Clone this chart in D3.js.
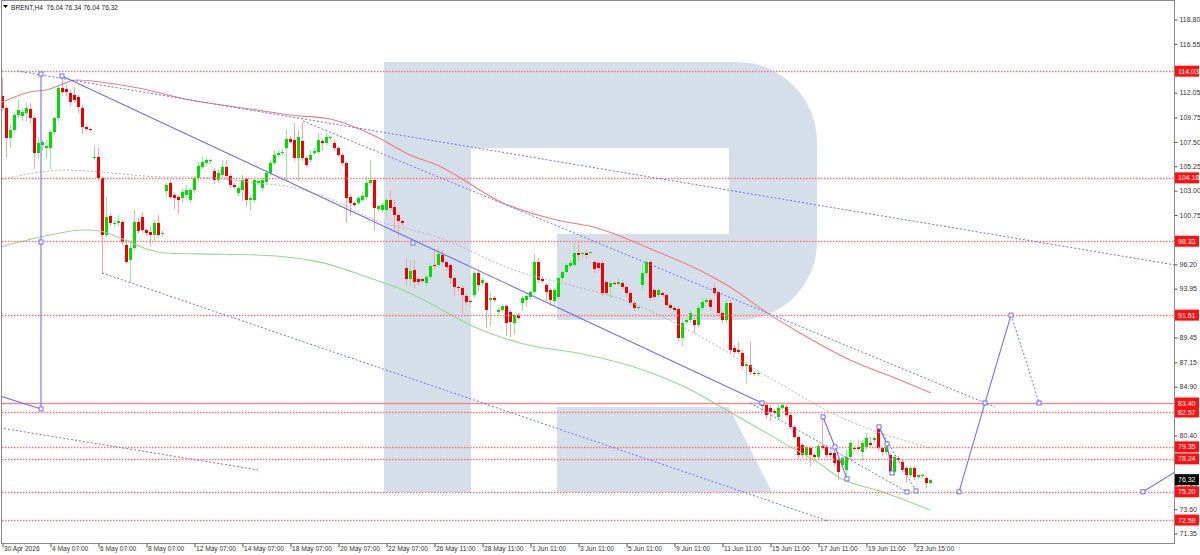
<!DOCTYPE html>
<html>
<head>
<meta charset="utf-8">
<script src="https://cdn.jsdelivr.net/npm/d3@7"></script>
<style>
  html, body { margin: 0; padding: 0; background: #fff; }
  svg { display: block; font-family: "Liberation Sans", Arial, sans-serif; }
</style>
</head>
<body>
<div id="chart"></div>
<script>
// BRENT H4 candles (bar 0 = 30 Apr 2026)
const opens = [
  111.74,110.63,107.86,108.60,109.99,109.89,110.17,110.54,109.71,106.48,
  107.22,106.94,106.94,108.42,109.71,112.48,112.39,112.02,111.83,111.65,
  110.63,108.88,108.69,106.02,106.11,104.17,98.91,100.66,99.92,100.02,
  100.11,97.99,96.60,97.71,100.11,100.57,99.37,99.19,98.91,100.02,
  99.00,102.97,103.71,102.60,102.42,102.32,102.60,102.14,103.06,104.17,
  105.19,105.55,105.74,104.82,103.99,104.45,105.19,104.35,103.52,102.79,
  103.06,104.08,102.14,102.14,103.71,103.25,103.80,104.63,105.55,106.29,
  106.48,106.94,107.77,107.68,106.02,107.59,106.02,105.83,106.48,106.57,
  107.59,107.40,107.86,107.40,106.94,106.29,105.55,102.42,101.86,101.86,
  102.14,102.42,103.71,103.99,101.31,101.22,101.22,102.14,101.49,100.76,
  100.20,95.86,94.85,95.68,94.85,94.85,94.48,95.03,96.14,96.14,
  97.06,96.42,96.14,94.94,94.11,94.02,93.28,92.82,93.37,95.40,
  94.48,94.48,92.91,93.09,91.80,91.99,92.36,91.80,90.79,91.53,
  92.63,92.91,93.19,93.65,96.42,94.85,94.29,93.83,92.82,93.19,
  94.94,95.49,96.05,96.14,97.25,97.16,97.25,97.25,96.42,96.33,
  96.33,94.57,94.11,94.48,94.39,94.48,94.11,93.56,92.63,92.17,
  94.29,95.40,96.42,93.83,93.37,93.56,93.37,92.45,92.17,92.08,
  89.40,90.88,91.06,91.06,90.60,92.17,92.73,92.91,94.02,93.65,
  91.71,91.06,92.63,88.48,88.30,88.02,86.82,86.91,86.17,86.08,
  83.40,83.22,82.94,82.66,82.11,82.94,83.03,82.30,81.19,80.26,
  79.53,78.60,79.25,78.60,78.42,79.43,79.34,78.79,78.79,78.14,
  77.68,77.22,78.42,79.25,79.34,78.88,79.34,79.71,79.99,81.10,
  79.25,78.88,78.60,77.03,78.33,77.96,77.40,76.76,77.40,76.57,
  76.67,76.48,76.04
];
const highs = [
  113.40,110.91,109.06,110.17,111.37,110.63,111.19,111.09,109.89,107.95,
  107.68,107.68,108.60,109.80,112.75,113.49,112.75,112.29,112.57,111.83,
  110.91,109.06,108.79,107.22,106.94,104.35,102.42,100.94,100.29,100.76,
  100.29,98.45,98.17,101.22,100.48,101.03,99.55,99.65,100.29,100.76,
  99.28,103.71,103.99,102.79,102.60,103.25,103.52,103.25,104.35,105.65,
  106.11,106.02,105.92,105.09,104.91,105.83,105.83,104.54,103.71,103.43,
  104.45,104.26,102.51,104.17,104.08,104.17,104.91,105.83,106.76,106.76,
  106.85,108.60,108.05,109.25,108.60,109.34,106.20,106.76,106.94,108.32,
  107.77,108.32,108.05,107.68,107.12,106.48,105.74,102.69,101.96,102.51,
  102.88,104.26,105.83,104.17,101.68,101.86,102.32,103.06,102.14,101.03,
  100.39,96.79,96.60,96.60,95.03,94.94,95.22,96.33,97.71,97.71,
  97.53,96.60,96.33,95.12,94.29,94.20,93.46,92.91,95.49,95.68,
  94.94,94.66,93.56,93.28,92.17,92.54,92.54,91.99,91.71,91.71,
  93.28,93.56,93.83,97.16,96.79,95.03,94.48,94.02,94.02,95.03,
  95.68,96.33,96.60,98.17,98.26,97.43,97.53,97.43,96.60,96.51,
  96.60,94.76,94.66,94.66,94.94,94.76,94.29,93.83,92.82,92.45,
  96.33,96.79,96.60,94.02,94.02,93.74,93.56,92.63,92.36,92.26,
  91.25,91.25,91.99,91.53,92.45,93.09,93.09,93.09,94.48,93.83,
  91.90,92.91,92.91,88.76,89.04,88.30,87.19,89.04,86.36,86.26,
  83.68,83.50,83.22,82.85,83.22,83.40,83.22,82.48,81.37,80.45,
  79.71,79.53,79.43,78.79,79.62,82.20,79.53,78.97,78.97,78.33,
  78.60,79.07,79.99,79.43,79.99,79.99,80.63,80.26,80.36,81.28,
  79.43,79.53,78.79,78.60,78.51,78.14,77.59,77.59,77.59,76.85,
  76.85,76.67,76.34
];
const lows = [
  110.45,106.11,107.03,108.42,109.80,109.52,109.52,109.34,105.09,106.02,
  106.76,106.02,105.09,108.23,109.52,111.83,111.83,110.91,111.19,110.26,
  108.32,108.60,108.51,105.92,103.99,95.40,98.72,99.83,99.74,99.83,
  98.08,96.33,94.57,97.53,99.09,99.19,98.91,97.99,98.45,98.72,
  98.82,102.51,102.32,101.40,100.94,101.96,102.32,101.96,102.88,103.99,
  105.09,105.37,105.55,103.71,103.80,104.26,104.17,103.34,103.25,102.60,
  102.14,101.68,101.22,101.96,103.62,103.06,103.62,104.45,105.46,106.11,
  106.39,103.99,107.40,105.83,103.99,105.83,105.28,105.65,106.39,106.48,
  106.76,107.31,107.77,106.76,106.20,105.37,100.11,100.76,101.59,101.77,
  102.05,102.23,103.52,99.37,101.12,101.03,100.66,101.22,99.37,98.72,
  99.83,94.29,94.29,94.11,94.39,94.57,94.29,94.85,95.86,95.96,
  96.23,95.68,94.48,93.37,93.83,91.71,92.54,92.63,93.19,93.83,
  94.29,90.42,90.60,92.82,91.62,91.80,89.68,89.59,89.86,91.16,
  91.99,92.36,93.00,93.46,94.57,94.57,92.91,92.45,92.45,93.00,
  94.76,95.40,95.96,96.05,96.60,96.88,96.79,97.16,95.49,95.68,
  93.37,93.46,93.19,94.29,94.29,94.02,93.28,92.45,91.99,92.08,
  93.83,95.22,92.91,93.09,93.19,93.28,92.26,92.08,91.90,89.22,
  88.76,90.79,90.88,89.96,90.42,91.99,92.63,91.99,93.37,91.53,
  90.88,90.88,88.11,88.02,88.02,86.63,85.25,86.08,85.99,85.99,
  82.76,82.02,81.84,82.39,81.93,82.85,82.20,81.10,80.17,78.33,
  78.42,78.33,77.68,78.33,78.24,79.16,78.42,78.51,77.68,76.39,
  77.50,76.76,78.24,79.07,79.07,78.14,79.16,79.43,79.80,79.07,
  78.60,78.70,76.94,76.85,78.05,77.03,76.11,76.57,76.39,76.48,
  76.57,75.65,76.04
];
const closes = [
  110.63,107.86,108.60,109.99,110.45,110.26,110.63,109.71,106.48,107.40,
  107.49,107.12,108.42,109.71,112.48,112.11,112.11,111.19,111.37,110.72,
  108.88,108.69,108.60,106.11,104.17,98.91,100.57,100.02,100.02,100.20,
  98.26,96.42,97.71,100.11,99.28,99.37,99.09,98.91,100.02,98.91,
  99.09,103.52,102.42,102.32,102.14,102.88,103.06,103.06,104.17,105.28,
  105.65,105.83,105.83,103.99,104.63,105.19,104.35,103.52,103.34,103.25,
  103.99,102.14,102.32,103.99,103.89,103.99,104.63,105.55,106.29,106.48,
  106.57,107.77,107.49,106.02,107.95,106.02,105.37,106.29,106.66,107.68,
  107.40,107.95,107.95,106.94,106.29,105.55,102.32,101.86,101.68,102.32,
  102.51,103.71,103.99,101.40,101.59,101.68,102.14,101.40,100.76,100.20,
  100.02,94.85,95.59,94.57,94.57,94.66,95.03,96.05,96.05,97.16,
  96.42,95.96,94.94,94.11,94.02,93.37,92.73,92.73,95.40,94.29,
  94.76,91.99,93.09,92.91,91.99,92.36,90.79,90.88,91.53,91.25,
  93.09,93.28,93.65,96.42,94.76,94.66,93.65,92.91,93.83,94.94,
  95.49,96.14,96.33,97.25,97.06,97.25,97.06,97.34,95.77,95.86,
  93.56,93.56,94.48,94.39,94.57,94.11,93.56,92.63,92.17,92.26,
  95.40,96.42,93.09,93.19,93.83,93.37,92.45,92.17,91.99,89.40,
  90.79,91.06,91.71,90.60,92.17,92.73,92.91,92.26,93.56,91.71,
  91.06,92.63,88.30,88.11,88.11,86.82,87.00,86.26,86.08,86.17,
  83.12,82.30,82.57,82.48,82.94,83.22,82.30,81.19,80.26,78.60,
  78.60,79.34,78.60,78.42,79.43,79.25,78.60,78.60,77.87,77.03,
  78.33,78.42,79.71,79.16,79.16,79.71,80.17,79.53,80.17,79.25,
  78.88,79.34,77.03,78.42,78.14,77.22,76.76,77.40,76.57,76.76,
  76.76,76.02,76.32
];

// moving averages, sampled as [bar, price]
const maRed = [[-0.5,111.09],[7,112.11],[12,112.39],[14.5,112.75],[18.75,113.22],[24.5,113.03],
  [32.75,112.57],[47,111.37],[63.75,110.45],[72,109.99],[82,109.62],[88.75,108.79],[93.75,107.95],
  [102,106.29],[108.75,105.37],[125.25,101.86],[138.75,100.29],[148.75,99.56],[162.75,97.53],
  [175.25,95.49],[182,94.11],[192,91.53],[199.5,89.86],[212,87.37],[224.5,85.53],[232.25,84.33]];
const maGreen = [[-0.5,97.80],[12,98.91],[20.25,99.37],[24.5,99.28],[29.5,98.63],[37,97.53],
  [40.75,97.25],[49.5,97.16],[63.75,97.06],[80.25,96.33],[92,94.94],[100.25,93.83],[107.75,92.45],
  [117,90.60],[129.5,88.94],[146.25,87.83],[158.75,86.63],[171.25,84.79],[182,82.57],[196.25,79.53],
  [203.75,77.96],[209.5,76.48],[220.25,75.19],[232,73.53]];
const maGray = [[-0.5,103.99],[9.5,104.72],[16.25,104.91],[24.5,104.72],[41.25,104.26],[47.75,104.26],
  [63.75,103.71],[72,103.34],[84.5,101.86],[92,100.48],[108.75,98.73],[129.5,95.49],[142,94.29],
  [158.75,92.45],[175.25,89.40],[192,85.71],[209.5,82.11],[232,79.25]];

// horizontal levels and analysis lines, [bar, price]
const levels = [114.03, 104.18, 98.33, 91.51, 83.40, 82.57, 79.35, 78.24, 75.20, 72.59];
const solidLevel = 83.40;
const solidLines = [
  [[15,113.59],[190,83.40]],
  [[9.75,113.77],[9.75,82.85]],
  [[-0.5,84.05],[9.75,82.85]],
  [[205.25,82.11],[208.25,79.34],[211.25,76.39]],
  [[219.25,81.19],[221.25,79.62],[222.5,76.94]],
  [[239.25,75.20],[245.75,83.40],[252.25,91.51]],
  [[285.25,75.20],[293.25,77.03]]
];
const dottedLines = [
  [[3.75,114.05],[293.25,96.14]],
  [[75.25,109.43],[248.25,83.03]],
  [[25,95.40],[206.5,72.51]],
  [[-0.5,81.10],[64,77.22]],
  [[187,83.40],[226.25,75.19]],
  [[219.25,81.19],[228.5,75.28]],
  [[252.25,91.51],[255.75,87.56],[259.25,83.40]]
];
const anchors = [[9.75,113.77],[9.75,98.26],[9.75,82.85],[15,113.59],[102.75,98.17],[190,83.40],
  [205.25,82.11],[208.25,79.34],[211.25,76.39],[219.25,81.19],[221.25,79.62],[222.5,76.94],
  [226.25,75.19],[228.5,75.28],[239.25,75.20],[245.75,83.40],[252.25,91.51],[259.25,83.40],[285.25,75.20]];

const yTicks = [118.80,116.55,114.30,112.05,109.75,107.50,105.25,103.00,100.75,98.45,96.20,
  93.95,91.70,89.45,87.15,84.90,82.65,80.40,78.15,75.85,73.60,71.35];
const dateBars = [0,12,24,36,48,60,72,84,96,108,120,132,144,156,168,180,192,204,216,228];
const dateLabels = ["30 Apr 2026","4 May 07:00","6 May 07:00","8 May 07:00","12 May 07:00",
  "14 May 07:00","18 May 07:00","20 May 07:00","22 May 07:00","26 May 11:00","28 May 11:00",
  "1 Jun 11:00","3 Jun 11:00","5 Jun 11:00","9 Jun 11:00","11 Jun 11:00","15 Jun 11:00",
  "17 Jun 11:00","19 Jun 11:00","23 Jun 15:00"];
const header = "BRENT,H4  76.04 76.34 76.04 76.32";

const W = 1200, H = 555;
const plotRight = 1174, plotBottom = 543;
const blue = "#6f6ff2";

const svg = d3.select("#chart").append("svg")
    .attr("width", W)
    .attr("height", H);
svg.append("rect").attr("width", W).attr("height", H).attr("fill", "#fff");

const x = d3.scaleLinear().domain([0, 293.25]).range([2, 1175]);
const y = d3.scaleLinear().domain([71.35, 118.80]).range([533.5, 19.5]);

svg.append("defs").append("clipPath").attr("id", "plot")
  .append("rect").attr("x", 2).attr("y", 1).attr("width", plotRight - 2).attr("height", plotBottom - 1);

// watermark logo
const logo = svg.append("g").attr("fill", "#d5dfea");
logo.append("path")
  .attr("d", "M384,62 H737 A80,80 0 0 1 817,142 V242 A78,78 0 0 1 739,320 H557 V234 H729 V148 H471 V492 H384 Z");
logo.append("path").attr("d", "M557,407 H729 L772,492 H557 Z");

const g = svg.append("g").attr("clip-path", "url(#plot)");

// candles
const bars = d3.range(opens.length);
g.append("g").selectAll("line")
  .data(bars)
  .join("line")
    .attr("x1", i => x(i) + 0.5)
    .attr("x2", i => x(i) + 0.5)
    .attr("y1", i => Math.round(y(highs[i])))
    .attr("y2", i => Math.round(y(lows[i])) + 1)
    .attr("stroke", i => closes[i] >= opens[i] ? "#97e697" : "#f9a2a2")
    .attr("stroke-width", 1);
g.append("g").selectAll("rect")
  .data(bars)
  .join("rect")
    .attr("x", i => x(i) - 1)
    .attr("width", 3)
    .attr("y", i => Math.round(y(Math.max(opens[i], closes[i]))))
    .attr("height", i => Math.max(1, Math.round(Math.abs(y(opens[i]) - y(closes[i])))))
    .attr("fill", i => closes[i] >= opens[i] ? "#00dd00" : "#f00000");

// moving averages
const curve = d3.line().x(d => x(d[0])).y(d => y(d[1])).curve(d3.curveMonotoneX);
g.append("path").attr("d", curve(maRed)).attr("fill", "none").attr("stroke", "#f27a7a").attr("stroke-width", 1.1);
g.append("path").attr("d", curve(maGreen)).attr("fill", "none").attr("stroke", "#8edc8e").attr("stroke-width", 1.1);
g.append("path").attr("d", curve(maGray)).attr("fill", "none").attr("stroke", "#b5b5b5")
  .attr("stroke-width", 1).attr("stroke-dasharray", "2,2");

// levels
g.append("g").selectAll("line")
  .data(levels)
  .join("line")
    .attr("x1", 2).attr("x2", plotRight)
    .attr("y1", d => Math.round(y(d)) + 0.5)
    .attr("y2", d => Math.round(y(d)) + 0.5)
    .attr("stroke", d => d === solidLevel ? "#f28a8a" : "#ff7070")
    .attr("stroke-width", d => d === solidLevel ? 1.6 : 1.3)
    .attr("stroke-dasharray", d => d === solidLevel ? null : "1.5,1.5");

// analysis lines
const seg = d3.line().x(d => x(d[0])).y(d => y(d[1]));
g.append("g").selectAll("path")
  .data(solidLines)
  .join("path")
    .attr("d", seg).attr("fill", "none").attr("stroke", blue).attr("stroke-width", 1.1);
g.append("g").selectAll("path")
  .data(dottedLines)
  .join("path")
    .attr("d", seg).attr("fill", "none").attr("stroke", blue).attr("stroke-width", 1)
    .attr("stroke-dasharray", "2,2");
g.append("g").selectAll("rect")
  .data(anchors)
  .join("rect")
    .attr("x", d => x(d[0]) - 2).attr("y", d => y(d[1]) - 2)
    .attr("width", 4).attr("height", 4)
    .attr("fill", "#fff").attr("stroke", blue).attr("stroke-width", 1);

// frame and axes
svg.append("rect")
  .attr("x", 1.5).attr("y", 0.5).attr("width", plotRight - 1).attr("height", plotBottom)
  .attr("fill", "none").attr("stroke", "#8a8a8a");

// tick labels that sit fully under a level tag are not shown
const hidden = v => levels.some(l => Math.abs(y(l) - y(v)) < 4);
const yAxis = svg.append("g")
  .attr("transform", `translate(${plotRight + 0.5},0)`)
  .call(d3.axisRight(y).tickValues(yTicks)
    .tickFormat(v => hidden(v) ? "" : d3.format(".2f")(v))
    .tickSize(3).tickSizeOuter(0).tickPadding(2));
yAxis.select(".domain").remove();
yAxis.selectAll("line").attr("stroke", "#555");
yAxis.selectAll("text").attr("font-size", "7px").attr("fill", "#333").attr("font-family", "Liberation Sans, Arial, sans-serif");

const xAxis = svg.append("g")
  .attr("transform", `translate(0.5,${plotBottom + 0.5})`)
  .call(d3.axisBottom(x).tickValues(dateBars).tickFormat((d, k) => dateLabels[k]).tickSize(4).tickSizeOuter(0));
xAxis.select(".domain").remove();
xAxis.selectAll("line").attr("stroke", "#555");
xAxis.selectAll("text")
  .attr("font-size", "6.6px").attr("fill", "#333").attr("font-family", "Liberation Sans, Arial, sans-serif")
  .attr("text-anchor", "start").attr("x", 1).attr("y", 3).attr("dy", "0.71em");

// level price tags
const tags = svg.append("g");
levels.forEach(v => {
  const cy = y(v);
  tags.append("rect").attr("x", plotRight + 1).attr("y", cy - 5.5).attr("width", 24).attr("height", 11).attr("fill", "#ff1010");
  tags.append("text").attr("x", plotRight + 4).attr("y", cy + 2.6).attr("font-size", "7px").attr("fill", "#fff").text(v.toFixed(2));
});
const last = closes[closes.length - 1];
tags.append("rect").attr("x", plotRight + 1).attr("y", y(last) - 5.5).attr("width", 24).attr("height", 11).attr("fill", "#000");
tags.append("text").attr("x", plotRight + 4).attr("y", y(last) + 2.6).attr("font-size", "7px").attr("fill", "#fff").text(last.toFixed(2));

// header
svg.append("path").attr("d", "M3,5 L8,5 L5.5,8 Z").attr("fill", "#000");
svg.append("text").attr("x", 11).attr("y", 9.5).attr("font-size", "6.6px").attr("fill", "#222")
  .attr("xml:space", "preserve").style("white-space", "pre").text(header);
</script>
</body>
</html>
